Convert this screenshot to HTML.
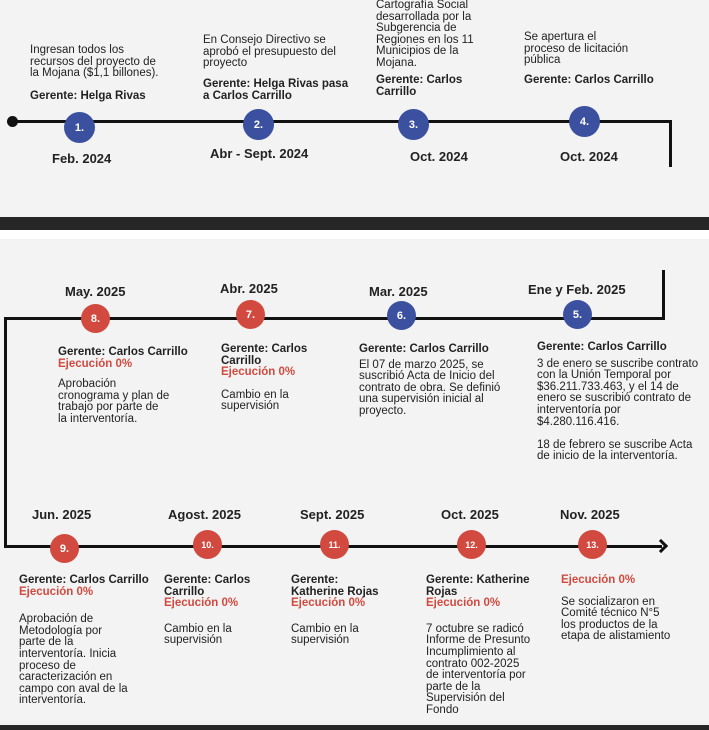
<!DOCTYPE html><html><head><meta charset="utf-8"><style>
body{margin:0;width:709px;height:730px;background:#f3f3f3;position:relative;overflow:hidden;font-family:"Liberation Sans Narrow","Liberation Sans",sans-serif;color:#222}
.t{position:absolute;font-size:11.5px;line-height:11.6px;white-space:nowrap}
.b{font-weight:bold}
.r{color:#d24a3f;font-weight:bold}
.d{position:absolute;font-weight:bold;font-size:13px;white-space:nowrap}
.c{position:absolute;border-radius:50%;color:#fff;font-weight:bold;font-size:11px;display:flex;align-items:center;justify-content:center}
.bl{background:#3b51a0;width:31px;height:31px}
.rd{background:#d24a3f;width:29px;height:29px}
.ln{position:absolute;background:#111}
.sp{display:block;height:6px}
</style></head><body>
<div style="position:absolute;left:0;top:217px;width:709px;height:13px;background:#262626"></div>
<div style="position:absolute;left:0;top:230px;width:709px;height:9px;background:#fff"></div>
<div style="position:absolute;left:0;top:725px;width:709px;height:5px;background:#262626"></div>

<div class="ln" style="left:12px;top:120px;width:660px;height:3px"></div>
<div class="ln" style="left:669px;top:120px;width:3px;height:47px"></div>
<div style="position:absolute;left:7px;top:116px;width:11px;height:11px;border-radius:50%;background:#111"></div>
<div class="c bl" style="left:64px;top:112px">1.</div>
<div class="c bl" style="left:243px;top:109px">2.</div>
<div class="c bl" style="left:398px;top:109px">3.</div>
<div class="c bl" style="left:569px;top:106px">4.</div>
<div class="d" style="left:52px;top:151px">Feb. 2024</div>
<div class="d" style="left:210px;top:146px">Abr - Sept. 2024</div>
<div class="d" style="left:410px;top:149px">Oct. 2024</div>
<div class="d" style="left:560px;top:149px">Oct. 2024</div>
<div class="t" style="left:30px;top:45px">Ingresan todos los<br>recursos del proyecto de<br>la Mojana ($1,1 billones).</div>
<div class="t b" style="left:30px;top:91px">Gerente: Helga Rivas</div>
<div class="t" style="left:203px;top:35px">En Consejo Directivo se<br>aprobó el presupuesto del<br>proyecto</div>
<div class="t b" style="left:203px;top:79px">Gerente: Helga Rivas pasa<br>a Carlos Carrillo</div>
<div class="t" style="left:376px;top:0px">Cartografía Social<br>desarrollada por la<br>Subgerencia de<br>Regiones en los 11<br>Municipios de la<br>Mojana.</div>
<div class="t b" style="left:376px;top:75px">Gerente: Carlos<br>Carrillo</div>
<div class="t" style="left:524px;top:32px">Se apertura el<br>proceso de licitación<br>pública</div>
<div class="t b" style="left:524px;top:75px">Gerente: Carlos Carrillo</div>

<div class="ln" style="left:662px;top:270px;width:3px;height:50px"></div>
<div class="ln" style="left:4px;top:317px;width:661px;height:3px"></div>
<div class="ln" style="left:4px;top:317px;width:3px;height:230px"></div>
<div class="c rd" style="left:81px;top:304px">8.</div>
<div class="c rd" style="left:236px;top:300px">7.</div>
<div class="c bl" style="left:387px;top:301px;width:29px;height:29px">6.</div>
<div class="c bl" style="left:563px;top:300px;width:29px;height:29px">5.</div>
<div class="d" style="left:65px;top:284px">May. 2025</div>
<div class="d" style="left:220px;top:281px">Abr. 2025</div>
<div class="d" style="left:369px;top:284px">Mar. 2025</div>
<div class="d" style="left:528px;top:282px">Ene y Feb. 2025</div>
<div class="t" style="left:58px;top:347px"><span class="b">Gerente: Carlos Carrillo</span><br><span class="r">Ejecución 0%</span><span class="sp" style="height:9px"></span>Aprobación<br>cronograma y plan de<br>trabajo por parte de<br>la interventoría.</div>
<div class="t" style="left:221px;top:344px"><span class="b">Gerente: Carlos<br>Carrillo</span><br><span class="r">Ejecución 0%</span><span class="sp" style="height:11px"></span>Cambio en la<br>supervisión</div>
<div class="t" style="left:359px;top:344px"><span class="b">Gerente: Carlos Carrillo</span><span class="sp" style="height:4px"></span>El 07 de marzo 2025, se<br>suscribió Acta de Inicio del<br>contrato de obra. Se definió<br>una supervisión inicial al<br>proyecto.</div>
<div class="t" style="left:537px;top:342px"><span class="b">Gerente: Carlos Carrillo</span><span class="sp" style="height:5px"></span>3 de enero se suscribe contrato<br>con la Unión Temporal por<br>$36.211.733.463, y el 14 de<br>enero se suscribió contrato de<br>interventoría por<br>$4.280.116.416.<br><br>18 de febrero se suscribe Acta<br>de inicio de la interventoría.</div>

<div class="ln" style="left:4px;top:545px;width:658px;height:3px"></div>
<div style="position:absolute;left:656px;top:541px;width:7px;height:7px;border-top:3px solid #111;border-right:3px solid #111;transform:rotate(45deg)"></div>
<div class="c rd" style="left:50px;top:534px">9.</div>
<div class="c rd" style="left:193px;top:530px;font-size:9px">10.</div>
<div class="c rd" style="left:320px;top:530px;font-size:9px">11.</div>
<div class="c rd" style="left:457px;top:530px;font-size:9px">12.</div>
<div class="c rd" style="left:578px;top:530px;font-size:9px">13.</div>
<div class="d" style="left:32px;top:507px">Jun. 2025</div>
<div class="d" style="left:168px;top:507px">Agost. 2025</div>
<div class="d" style="left:300px;top:507px">Sept. 2025</div>
<div class="d" style="left:441px;top:507px">Oct. 2025</div>
<div class="d" style="left:560px;top:507px">Nov. 2025</div>
<div class="t" style="left:19px;top:575px"><span class="b">Gerente: Carlos Carrillo</span><br><span class="r">Ejecución 0%</span><span class="sp" style="height:16px"></span>Aprobación de<br>Metodología por<br>parte de la<br>interventoría. Inicia<br>proceso de<br>caracterización en<br>campo con aval de la<br>interventoría.</div>
<div class="t" style="left:164px;top:575px"><span class="b">Gerente: Carlos<br>Carrillo</span><br><span class="r">Ejecución 0%</span><span class="sp" style="height:14px"></span>Cambio en la<br>supervisión</div>
<div class="t" style="left:291px;top:575px"><span class="b">Gerente:<br>Katherine Rojas</span><br><span class="r">Ejecución 0%</span><span class="sp" style="height:14px"></span>Cambio en la<br>supervisión</div>
<div class="t" style="left:426px;top:575px"><span class="b">Gerente: Katherine<br>Rojas</span><br><span class="r">Ejecución 0%</span><span class="sp" style="height:14px"></span>7 octubre se radicó<br>Informe de Presunto<br>Incumplimiento al<br>contrato 002-2025<br>de interventoría por<br>parte de la<br>Supervisión del<br>Fondo</div>
<div class="t" style="left:561px;top:575px"><span class="r">Ejecución 0%</span><span class="sp" style="height:10px"></span>Se socializaron en<br>Comité técnico N°5<br>los productos de la<br>etapa de alistamiento</div>
</body></html>
